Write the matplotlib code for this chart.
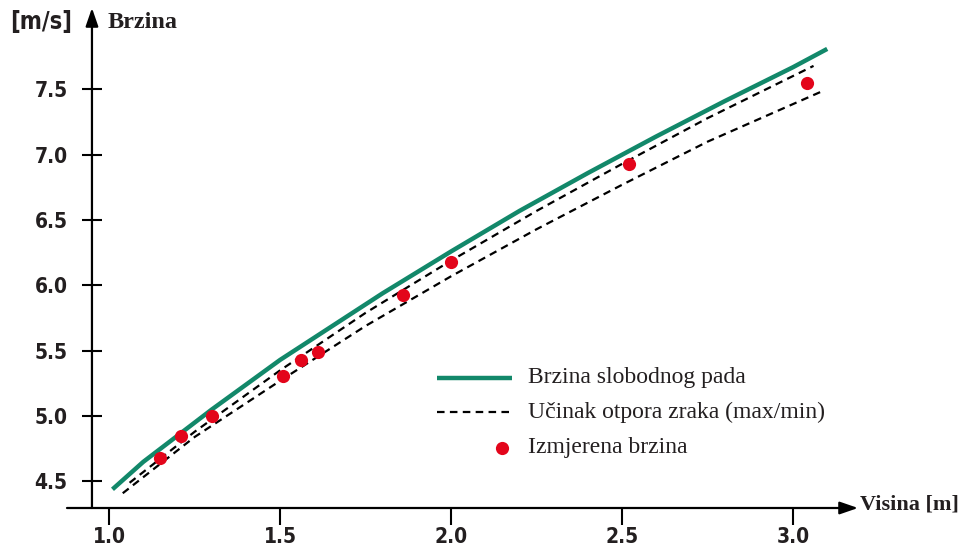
import matplotlib
matplotlib.use("Agg")
import matplotlib.pyplot as plt

# free fall speed (green curve)
h_free = [1.01, 1.1, 1.2, 1.3, 1.4, 1.5, 1.6, 1.7, 1.8, 1.9, 2.0, 2.2, 2.4, 2.6, 2.8, 3.0, 3.1]
v_free = [4.44, 4.65, 4.85, 5.05, 5.24, 5.43, 5.60, 5.77, 5.94, 6.10, 6.26, 6.57, 6.86, 7.14, 7.41, 7.67, 7.81]

# air resistance bounds (dashed)
h_max = [1.06, 1.25, 1.5, 1.75, 2.0, 2.25, 2.5, 2.75, 3.06]
v_max = [4.49, 4.88, 5.35, 5.79, 6.19, 6.57, 6.93, 7.28, 7.68]
h_min = [1.04, 1.25, 1.5, 1.75, 2.0, 2.25, 2.5, 2.75, 3.08]
v_min = [4.41, 4.84, 5.27, 5.69, 6.07, 6.43, 6.77, 7.10, 7.48]

# measured speed (red dots)
h_meas = [1.15, 1.21, 1.30, 1.51, 1.56, 1.61, 1.86, 2.00, 2.52, 3.04]
v_meas = [4.68, 4.85, 5.00, 5.31, 5.43, 5.49, 5.93, 6.18, 6.93, 7.55]

x_ticks = [1.0, 1.5, 2.0, 2.5, 3.0]
y_ticks = [4.5, 5.0, 5.5, 6.0, 6.5, 7.0, 7.5]

legend_labels = ["Brzina slobodnog pada", "Učinak otpora zraka (max/min)", "Izmjerena brzina"]

GREEN = "#12886a"
RED = "#e3051b"
INK = "#231f20"
sans = ["DejaVu Sans"]
serif = ["Liberation Serif", "DejaVu Serif"]

fig = plt.figure(figsize=(9.65, 5.51), dpi=100)
ax = fig.add_axes([67 / 965, 43 / 551, 791 / 965, 500 / 551])
x_lo, x_hi = 0.877, 3.19
y_lo, y_hi = 4.297, 8.123
y_axis_x = 0.950
ax.set_xlim(x_lo, x_hi)
ax.set_ylim(y_lo, y_hi)

# curves
ax.plot(h_free, v_free, color=GREEN, lw=3.2, solid_capstyle="butt", zorder=3)
ax.plot(h_max, v_max, color="black", lw=1.6, ls=(0, (3.4, 2.4)), zorder=2)
ax.plot(h_min, v_min, color="black", lw=1.6, ls=(0, (3.4, 2.4)), zorder=2)
ax.plot(h_meas, v_meas, "o", color=RED, ms=9.5, mec="none", zorder=4)

# axes drawn as arrows
for s in ax.spines.values():
    s.set_visible(False)
ax.spines["left"].set_position(("data", y_axis_x))
arrow = dict(arrowstyle="-|>,head_length=1.1,head_width=0.38", color="black",
             lw=1.6, shrinkA=0, shrinkB=0)
ax.annotate("", xy=(x_hi, y_lo), xytext=(x_lo, y_lo), arrowprops=arrow,
            annotation_clip=False)
ax.annotate("", xy=(y_axis_x, y_hi), xytext=(y_axis_x, y_lo), arrowprops=arrow,
            annotation_clip=False)

ax.set_xticks(x_ticks)
ax.set_xticklabels([f"{t:.1f}" for t in x_ticks])
ax.set_yticks(y_ticks)
ax.set_yticklabels([f"{t:.1f}" for t in y_ticks])
ax.tick_params(axis="x", direction="out", length=12, width=1.5, pad=1.5,
               colors="black")
ax.tick_params(axis="y", direction="inout", length=14, width=1.5, pad=10.5,
               colors="black")
for lab in ax.get_xticklabels() + ax.get_yticklabels():
    lab.set_family(sans)
    lab.set_fontstretch("condensed")
    lab.set_fontweight("bold")
    lab.set_fontsize(15)
    lab.set_color(INK)

# axis titles
fig.text(41 / 965, 1 - 22 / 551, "[m/s]", family=sans, fontstretch="condensed",
         fontweight="bold", fontsize=17, color=INK, ha="center", va="center")
fig.text(108 / 965, 1 - 23 / 551, "Brzina", family=serif, fontweight="bold",
         fontsize=17.5, color=INK, ha="left", va="center")
fig.text(860 / 965, 1 - 505 / 551, "Visina [m]", family=serif, fontweight="bold",
         fontsize=16, color=INK, ha="left", va="center")

# legend
lx0, lx1, tx = 0.4678, 0.5626, 0.5828
rows = [0.26, 0.192, 0.12]
ax.plot([lx0, lx1], [rows[0]] * 2, color=GREEN, lw=3.2, transform=ax.transAxes,
        solid_capstyle="butt")
ax.plot([lx0, lx1], [rows[1]] * 2, color="black", lw=1.6, ls=(0, (3.4, 2.4)),
        transform=ax.transAxes)
ax.plot([0.5499], [rows[2]], "o", color=RED, ms=9.5, mec="none",
        transform=ax.transAxes)
for y, lab in zip(rows, legend_labels):
    ax.text(tx, y, lab, transform=ax.transAxes, family=serif, fontsize=17,
            color=INK, ha="left", va="center")

fig.savefig("out.png", dpi=100)
